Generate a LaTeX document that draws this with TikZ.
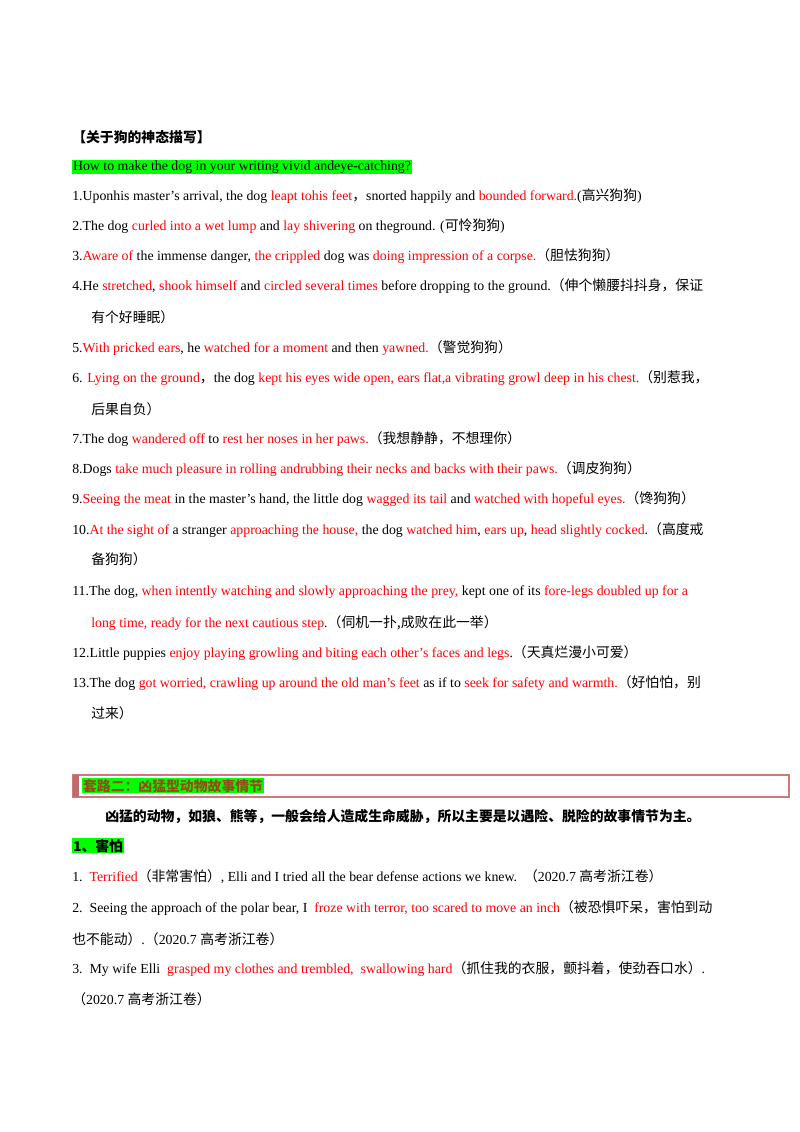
\documentclass[tikz,border=0pt]{standalone}
\usepackage{fontspec}
\setmainfont{Liberation Serif}
\newfontfamily\cjk{Noto Sans CJK SC}
\definecolor{hl}{RGB}{0,255,0}
\definecolor{rd}{RGB}{255,0,0}
\definecolor{brn}{RGB}{150,75,20}
\definecolor{boxr}{RGB}{210,120,120}
\newcommand{\R}[1]{\textcolor{rd}{#1}}
\newcommand{\C}[1]{{\cjk #1}}
\newcommand{\HL}[1]{{\setlength{\fboxsep}{0.6pt}\colorbox{hl}{#1}}}
\begin{document}
\begin{tikzpicture}[x=0.744pt,y=-0.744pt,
  ln/.style={anchor=base west,inner sep=0pt,font=\fontsize{10.3pt}{12pt}\selectfont}]
\useasboundingbox (0,0) rectangle (800,1132);
\node[ln] (h) at (72,142) {\textbf{\C{【关于狗的神态描写】}}};
\node[ln] (q) at (72,170) {\HL{How to make the dog in your writing vivid andeye-catching?}};
\node[ln] (l1) at (72,200) {1.Uponhis master’s arrival, the dog \R{leapt tohis feet}\C{，}snorted happily and \R{bounded forward.}(\C{高兴狗狗})};
\node[ln] (l2) at (72,230) {2.The dog \R{curled into a wet lump} and \R{lay shivering} on theground. (\C{可怜狗狗})};
\node[ln] (l3) at (72,260) {3.\R{Aware of} the immense danger, \R{the crippled} dog was \R{doing impression of a corpse.}\C{（胆怯狗狗）}};
\node[ln] (l4) at (72,290) {4.He \R{stretched}, \R{shook himself} and \R{circled several times} before dropping to the ground.\C{（伸个懒腰抖抖身，保证}};
\node[ln] (l4b) at (91,322) {\C{有个好睡眠）}};
\node[ln] (l5) at (72,352) {5.\R{With pricked ears}, he \R{watched for a moment} and then \R{yawned.}\C{（警觉狗狗）}};
\node[ln] (l6) at (72,382) {6. \R{Lying on the ground}\C{，}the dog \R{kept his eyes wide open, ears flat,a vibrating growl deep in his chest.}\C{（别惹我，}};
\node[ln] (l6b) at (91,414) {\C{后果自负）}};
\node[ln] (l7) at (72,443) {7.The dog \R{wandered off} to \R{rest her noses in her paws.}\C{（我想静静，不想理你）}};
\node[ln] (l8) at (72,473) {8.Dogs \R{take much pleasure in rolling andrubbing their necks and backs with their paws.}\C{（调皮狗狗）}};
\node[ln] (l9) at (72,503) {9.\R{Seeing the meat} in the master’s hand, the little dog \R{wagged its tail} and \R{watched with hopeful eyes.}\C{（馋狗狗）}};
\node[ln] (l10) at (72,534) {10.\R{At the sight of} a stranger \R{approaching the house,} the dog \R{watched him}, \R{ears up}, \R{head slightly cocked}.\C{（高度戒}};
\node[ln] (l10b) at (91,564) {\C{备狗狗）}};
\node[ln] (l11) at (72,595) {11.The dog, \R{when intently watching and slowly approaching the prey,} kept one of its \R{fore-legs doubled up for a}};
\node[ln] (l11b) at (91,627) {\R{long time, ready for the next cautious step}.\C{（伺机一扑,成败在此一举）}};
\node[ln] (l12) at (72,657) {12.Little puppies \R{enjoy playing growling and biting each other’s faces and legs}.\C{（天真烂漫小可爱）}};
\node[ln] (l13) at (72,687) {13.The dog \R{got worried, crawling up around the old man’s feet} as if to \R{seek for safety and warmth.}\C{（好怕怕，别}};
\node[ln] (l13b) at (91,718) {\C{过来）}};
\draw[boxr,line width=0.8pt] (73,775) rectangle (789,797);
\fill[boxr!90!black] (73,775) rectangle (79,797);
\node[ln] (t2) at (82,791) {\HL{\textcolor{brn}{\textbf{\C{套路二：凶猛型动物故事情节}}}}};
\node[ln] (p) at (105,821) {\textbf{\C{凶猛的动物，如狼、熊等，一般会给人造成生命威胁，所以主要是以遇险、脱险的故事情节为主。}}};
\node[ln] (s1) at (72,851) {\HL{\textbf{\C{1、害怕}}}};
\node[ln] (m1) at (72,881) {1.\ \ \R{Terrified}\C{（非常害怕）}, Elli and I tried all the bear defense actions we knew.\ \ \C{（}2020.7 \C{高考浙江卷）}};
\node[ln] (m2) at (72,912) {2.\ \ Seeing the approach of the polar bear, I\ \ \R{froze with terror, too scared to move an inch}\C{（被恐惧吓呆，害怕到动}};
\node[ln] (m2b) at (72,944) {\C{也不能动）}.\C{（}2020.7 \C{高考浙江卷）}};
\node[ln] (m3) at (72,973) {3.\ \ My wife Elli\ \ \R{grasped my clothes and trembled,\ \ swallowing hard}\C{（抓住我的衣服，颤抖着，使劲吞口水）}.};
\node[ln] (m3b) at (72,1004) {\C{（}2020.7 \C{高考浙江卷）}};
\end{tikzpicture}
\end{document}
